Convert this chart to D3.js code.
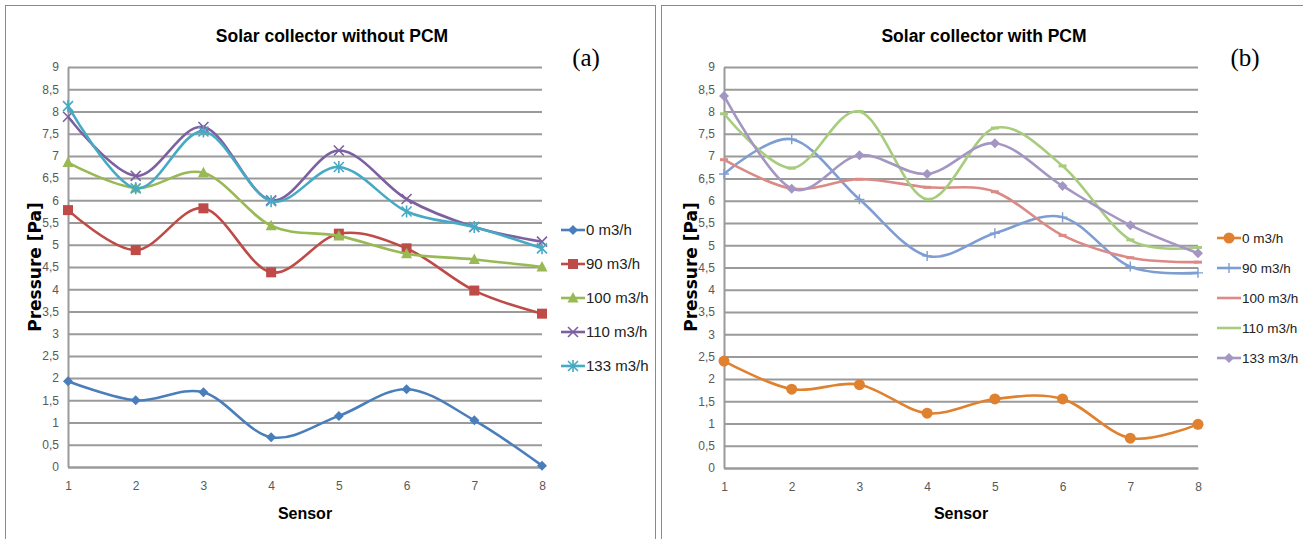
<!DOCTYPE html>
<html lang="en">
    <head>
	<meta charset="utf-8">
	<title>Solar collector pressure</title>
	<script src="https://cdn.jsdelivr.net/npm/d3@7"></script>
	<style>
	 body {
	     margin: 0;
	     background: #ffffff;
	 }
	 svg {
	     display: block;
	     background: #ffffff;
	 }
	</style>
    </head>
    <body>
	<div id="graph"></div>

	<script type="text/javascript">

	 //Data
	 const sensors = [1, 2, 3, 4, 5, 6, 7, 8];
	 const seriesNames = ["0 m3/h", "90 m3/h", "100 m3/h", "110 m3/h", "133 m3/h"];
	 const yTicks = [0, 0.5, 1, 1.5, 2, 2.5, 3, 3.5, 4, 4.5, 5, 5.5, 6, 6.5, 7, 7.5, 8, 8.5, 9];

	 //Without PCM
	 const noPcm0   = [1.93, 1.50, 1.68, 0.67, 1.15, 1.75, 1.05, 0.03];
	 const noPcm90  = [5.78, 4.88, 5.82, 4.38, 5.25, 4.92, 3.97, 3.45];
	 const noPcm100 = [6.85, 6.28, 6.62, 5.43, 5.20, 4.80, 4.67, 4.50];
	 const noPcm110 = [7.88, 6.55, 7.65, 6.00, 7.12, 6.03, 5.40, 5.07];
	 const noPcm133 = [8.12, 6.27, 7.55, 5.98, 6.75, 5.75, 5.40, 4.92];

	 //With PCM
	 const pcm0   = [2.40, 1.77, 1.87, 1.23, 1.55, 1.55, 0.67, 0.98];
	 const pcm90  = [6.60, 7.38, 6.03, 4.76, 5.27, 5.63, 4.52, 4.38];
	 const pcm100 = [6.92, 6.27, 6.48, 6.30, 6.20, 5.22, 4.72, 4.62];
	 const pcm110 = [7.95, 6.73, 8.00, 6.03, 7.63, 6.78, 5.12, 4.95];
	 const pcm133 = [8.35, 6.27, 7.02, 6.60, 7.29, 6.33, 5.45, 4.82];

	 const W = 1303, H = 539;
	 const font = "'Liberation Sans Narrow', 'Liberation Sans', sans-serif";

	 const svg = d3.select("#graph")
		       .append("svg")
		       .attr("width", W)
		       .attr("height", H);

	 //Marker shapes
	 function drawMarker (g, type, color) {
	     if (type === "diamond") {
		 g.append("path").attr("d", "M0,-5L5,0L0,5L-5,0Z").attr("fill", color);
	     } else if (type === "square") {
		 g.append("rect").attr("x", -5).attr("y", -5).attr("width", 10).attr("height", 10).attr("fill", color);
	     } else if (type === "triangle") {
		 g.append("path").attr("d", "M0,-6L5.5,4.5L-5.5,4.5Z").attr("fill", color);
	     } else if (type === "x") {
		 g.append("path").attr("d", "M-5,-5L5,5M-5,5L5,-5").attr("stroke", color).attr("stroke-width", 1.6);
	     } else if (type === "star") {
		 g.append("path").attr("d", "M-5,-5L5,5M-5,5L5,-5M0,-6L0,6").attr("stroke", color).attr("stroke-width", 1.6);
	     } else if (type === "circle") {
		 g.append("circle").attr("r", 5.5).attr("fill", color);
	     } else if (type === "plus") {
		 g.append("path").attr("d", "M-5,0L5,0M0,-5L0,5").attr("stroke", color).attr("stroke-width", 1.4);
	     } else if (type === "dash") {
		 g.append("path").attr("d", "M-4,0L4,0").attr("stroke", color).attr("stroke-width", 3);
	     }
	 }

	 function drawPanel (cfg) {
	     const x = d3.scaleLinear()
			 .domain(d3.extent(sensors))
			 .range([cfg.left, cfg.right]);
	     const y = d3.scaleLinear()
			 .domain([0, 9])
			 .range([cfg.bottom, cfg.top]);

	     const panel = svg.append("g");

	     //Frame
	     panel.append("rect")
		  .attr("x", cfg.frame[0] + 0.5)
		  .attr("y", cfg.frame[1] + 0.5)
		  .attr("width", cfg.frame[2])
		  .attr("height", cfg.frame[3])
		  .attr("fill", "none")
		  .attr("stroke", "#8a8a8a")
		  .attr("stroke-width", 1);

	     //Gridlines
	     panel.append("g")
		  .attr("class", "grid")
		  .attr("transform", "translate(" + cfg.left + ",0)")
		  .call(d3.axisLeft(y).tickValues(yTicks).tickSize(-(cfg.right - cfg.left)).tickFormat(""))
		  .call(g => g.select(".domain").remove())
		  .call(g => g.selectAll("line").attr("stroke", "#9a9a9a").attr("stroke-width", 2));

	     //Y axis
	     panel.append("g")
		  .attr("transform", "translate(" + cfg.left + ",0)")
		  .call(d3.axisLeft(y).tickValues(yTicks).tickSize(0).tickPadding(9)
			  .tickFormat(d => String(d).replace(".", ",")))
		  .call(g => g.select(".domain").attr("stroke", "#9a9a9a").attr("stroke-width", 2))
		  .call(g => g.selectAll("text")
				.attr("fill", "#595959")
				.style("font-family", font)
				.style("font-size", "12px"));

	     //X axis
	     panel.append("g")
		  .attr("transform", "translate(0," + cfg.bottom + ")")
		  .call(d3.axisBottom(x).tickValues(sensors).tickSize(0).tickPadding(14).tickFormat(d3.format("d")))
		  .call(g => g.select(".domain").attr("stroke", "#9a9a9a").attr("stroke-width", 2))
		  .call(g => g.selectAll("text")
				.attr("fill", "#595959")
				.style("font-family", font)
				.style("font-size", "12px"));

	     //Title
	     panel.append("text")
		  .attr("x", cfg.titleX)
		  .attr("y", 42)
		  .attr("text-anchor", "middle")
		  .style("font-family", font)
		  .style("font-weight", "bold")
		  .style("font-size", "17.5px")
		  .text(cfg.title);

	     //Panel letter
	     panel.append("text")
		  .attr("x", cfg.letterX)
		  .attr("y", 66)
		  .attr("text-anchor", "middle")
		  .style("font-family", "'Liberation Serif', serif")
		  .style("font-size", "25px")
		  .text(cfg.letter);

	     //Y label
	     panel.append("text")
		  .attr("transform", "rotate(-90)")
		  .attr("x", -267)
		  .attr("y", cfg.left - 27)
		  .attr("text-anchor", "middle")
		  .style("font-family", "'DejaVu Sans', sans-serif")
		  .style("font-weight", "bold")
		  .style("font-size", "17px")
		  .text("Pressure [Pa]");

	     //X label
	     panel.append("text")
		  .attr("x", (cfg.left + cfg.right) / 2)
		  .attr("y", 519)
		  .attr("text-anchor", "middle")
		  .style("font-family", font)
		  .style("font-weight", "bold")
		  .style("font-size", "16px")
		  .text("Sensor");

	     //Lines
	     const line = d3.line()
			    .x((d, i) => x(sensors[i]))
			    .y(d => y(d))
			    .curve(d3.curveCatmullRom.alpha(0));

	     cfg.series.forEach(function (vals, k) {
		 panel.append("path")
		      .attr("fill", "none")
		      .attr("stroke", cfg.colors[k])
		      .attr("stroke-width", 2.6)
		      .attr("stroke-linejoin", "round")
		      .attr("d", line(vals));

		 vals.forEach(function (v, i) {
		     const m = panel.append("g")
				    .attr("transform", "translate(" + x(sensors[i]) + "," + y(v) + ")");
		     drawMarker(m, cfg.markers[k], cfg.colors[k]);
		 });
	     });

	     //Legend
	     const legend = panel.append("g");
	     seriesNames.forEach(function (name, k) {
		 const ly = cfg.legendY + k * cfg.legendStep;
		 legend.append("line")
		       .attr("x1", cfg.legendX)
		       .attr("x2", cfg.legendX + 24)
		       .attr("y1", ly)
		       .attr("y2", ly)
		       .attr("stroke", cfg.colors[k])
		       .attr("stroke-width", 2.6);
		 const m = legend.append("g")
				 .attr("transform", "translate(" + (cfg.legendX + 12) + "," + ly + ")");
		 if (cfg.markers[k] !== "dash") drawMarker(m, cfg.markers[k], cfg.colors[k]);
		 legend.append("text")
		       .attr("x", cfg.legendX + 25)
		       .attr("y", ly + 5)
		       .style("font-family", font)
		       .style("font-size", cfg.legendFont)
		       .attr("fill", "#222")
		       .text(name);
	     });
	 }

	 drawPanel({
	     frame: [5, 5, 650, 540],
	     left: 68, right: 542, top: 67, bottom: 467,
	     titleX: 332, title: "Solar collector without PCM",
	     letterX: 586, letter: "(a)",
	     series: [noPcm0, noPcm90, noPcm100, noPcm110, noPcm133],
	     colors: ["#4a7ebb", "#be4b48", "#98b954", "#7d60a0", "#46aac5"],
	     markers: ["diamond", "square", "triangle", "x", "star"],
	     legendX: 561, legendY: 230, legendStep: 34, legendFont: "15px"
	 });

	 drawPanel({
	     frame: [661, 5, 650, 540],
	     left: 724, right: 1198, top: 67, bottom: 468,
	     titleX: 984, title: "Solar collector with PCM",
	     letterX: 1245, letter: "(b)",
	     series: [pcm0, pcm90, pcm100, pcm110, pcm133],
	     colors: ["#e0812f", "#7e9ed3", "#db8a86", "#a8cc7d", "#a496c2"],
	     markers: ["circle", "plus", "dash", "dash", "diamond"],
	     legendX: 1217, legendY: 238, legendStep: 30, legendFont: "13.5px"
	 });

	</script>
    </body>
</html>
